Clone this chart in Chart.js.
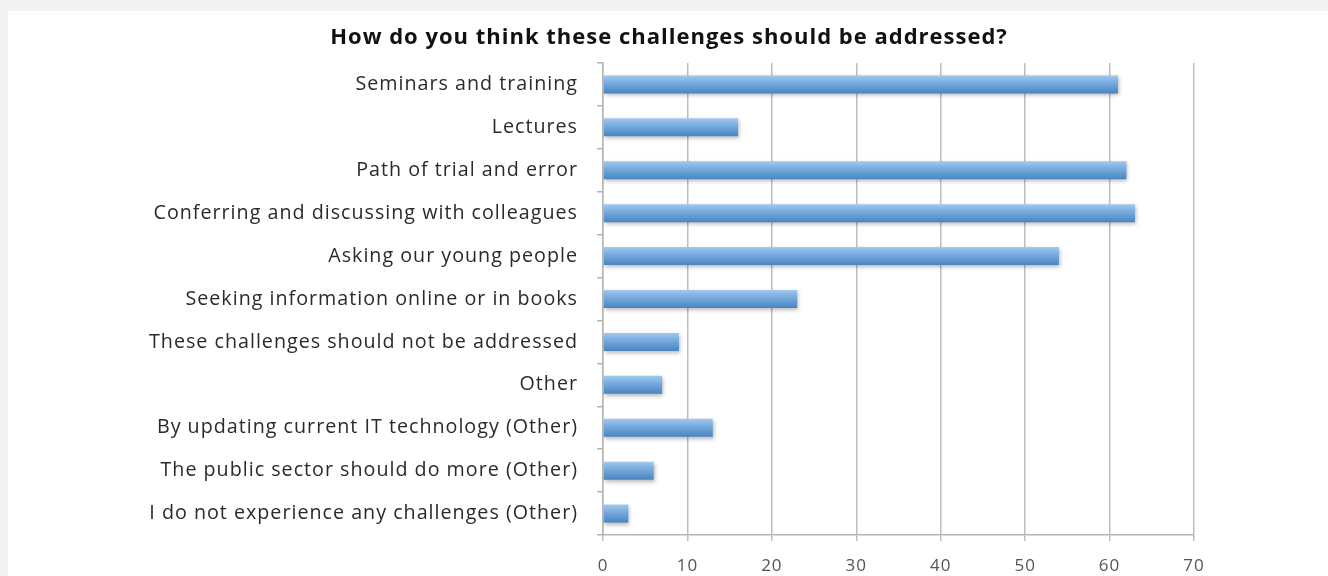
<!DOCTYPE html>
<html>
<head>
<meta charset="utf-8">
<script src="https://cdn.jsdelivr.net/npm/chart.js@4/dist/chart.umd.min.js"></script>
<style>
    html, body { margin: 0; padding: 0; background: #f3f4f2; }
    #panel { position: absolute; left: 8px; top: 11px; width: 1320px; height: 565px; background: #fff; }
</style>
</head>
<body>
<div id="panel"><canvas id="answersChart"></canvas></div>
<script>
// survey answers, top to bottom
const answers = [
    "Seminars and training",
    "Lectures",
    "Path of trial and error",
    "Conferring and discussing with colleagues",
    "Asking our young people",
    "Seeking information online or in books",
    "These challenges should not be addressed",
    "Other",
    "By updating current IT technology (Other)",
    "The public sector should do more (Other)",
    "I do not experience any challenges (Other)"
];
const responses = [61, 16, 62, 63, 54, 23, 9, 7, 13, 6, 3];
const xTicks = [0, 10, 20, 30, 40, 50, 60, 70];

const titleText = "How do you think these challenges should be addressed?";
const fontFamily = "'Open Sans', sans-serif";

const BAR_PCT = 0.84;
const CAT_PCT = 0.5;

// light-to-dark blue gradient across the bar's thickness
function barGradient(context) {
    const chart = context.chart;
    const yScale = chart.scales.y;
    if (!yScale || !chart.chartArea) return "#6fa5d9";
    const band = (yScale.bottom - yScale.top) / answers.length;
    const h = band * CAT_PCT * BAR_PCT;
    const mid = yScale.getPixelForValue(context.dataIndex);
    const g = chart.ctx.createLinearGradient(0, mid - h / 2, 0, mid + h / 2);
    g.addColorStop(0, "#a3c8ec");
    g.addColorStop(0.4, "#78acdf");
    g.addColorStop(1, "#4a85c0");
    return g;
}

// slightly looser letter spacing for all text
const textSpacing = {
    id: "textSpacing",
    beforeDraw(chart) {
        chart.ctx.letterSpacing = "1px";
    }
};

// soft drop shadow under the bars
const barShadow = {
    id: "barShadow",
    beforeDatasetsDraw(chart) {
        const ctx = chart.ctx;
        ctx.save();
        ctx.shadowColor = "rgba(0, 0, 0, 0.28)";
        ctx.shadowBlur = 4;
        ctx.shadowOffsetX = 1;
        ctx.shadowOffsetY = 2;
    },
    afterDatasetsDraw(chart) {
        chart.ctx.restore();
    }
};

new Chart(document.getElementById("answersChart").getContext("2d"), {
    type: "bar",
    data: {
        labels: answers,
        datasets: [{
            data: responses,
            backgroundColor: barGradient,
            borderWidth: 0,
            barPercentage: BAR_PCT,
            categoryPercentage: CAT_PCT
        }]
    },
    options: {
        indexAxis: "y",
        responsive: true,
        maintainAspectRatio: false,
        animation: false,
        layout: { padding: { left: 136, right: 134, top: 0, bottom: 1 } },
        plugins: {
            legend: { display: false },
            tooltip: { enabled: false },
            title: {
                display: true,
                text: titleText,
                color: "#111",
                font: { family: fontFamily, size: 22, weight: "bold" },
                padding: { top: 14, bottom: 11.6 }
            }
        },
        scales: {
            x: {
                min: 0,
                max: 70,
                afterBuildTicks: scale => { scale.ticks = xTicks.map(v => ({ value: v })); },
                afterFit: scale => { scale.height = 40; },
                border: { color: "#b5b5b5", width: 1.5 },
                grid: { color: "#bdbdbd", lineWidth: 1.5, tickLength: 6 },
                ticks: {
                    color: "#555",
                    padding: 15,
                    font: { family: fontFamily, size: 17 }
                }
            },
            y: {
                afterFit: scale => { scale.width = 459; },
                border: { color: "#b5b5b5", width: 1.5 },
                grid: { drawOnChartArea: false, color: "#b5b5b5", lineWidth: 1.5, tickLength: 6 },
                ticks: {
                    color: "#2a2a2a",
                    padding: 19,
                    font: { family: fontFamily, size: 19.7 }
                }
            }
        }
    },
    plugins: [textSpacing, barShadow]
});
</script>
</body>
</html>
